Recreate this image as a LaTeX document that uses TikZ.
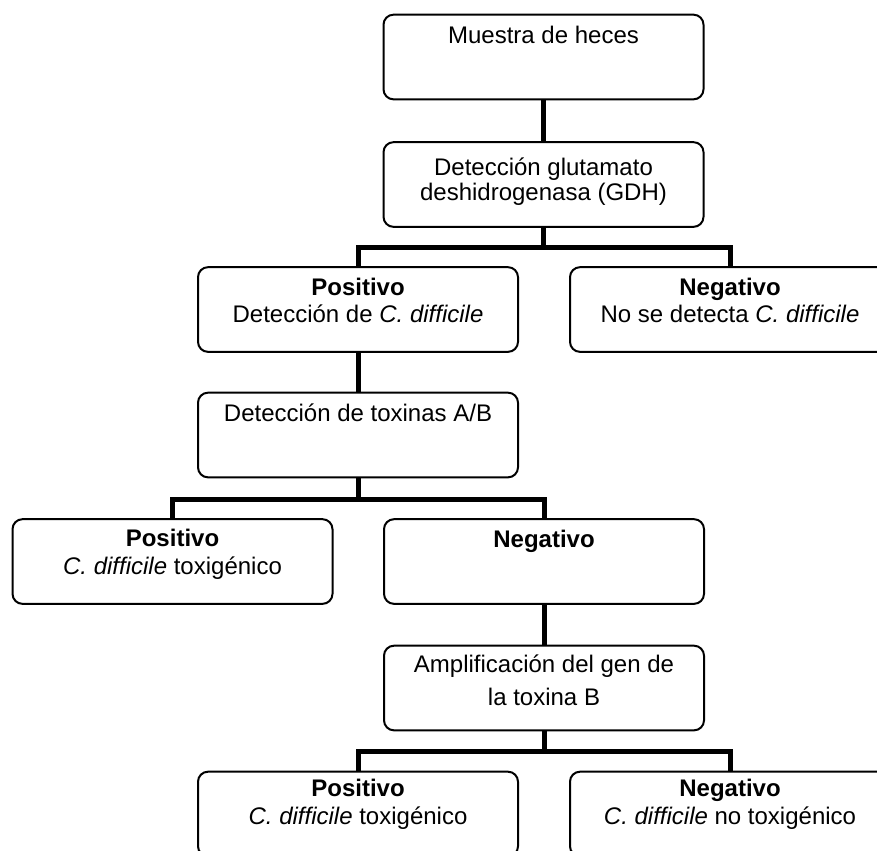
\documentclass[tikz,border=0pt]{standalone}
\usepackage{fontspec}
\setmainfont{Liberation Sans}
\usetikzlibrary{calc}
\begin{document}
\begin{tikzpicture}[x=0.75pt,y=-0.75pt,
  stepbox/.style={draw=black, line width=1.5pt, rounded corners=7.5pt,
    minimum width=240pt, minimum height=63.5pt, inner sep=0pt, outer sep=0pt},
  txt/.style={anchor=base, inner sep=0pt, font=\fontsize{18pt}{21pt}\selectfont},
  link/.style={line width=3.75pt}]

% page area
\useasboundingbox (0,0) rectangle (877,850);
\fill[white] (0,0) rectangle (877,850);
\clip (0,0) rectangle (877,850);

% boxes
\node[stepbox] (b1)  at (543.5,57)    {};
\node[stepbox] (b2)  at (543.5,184.5) {};
\node[stepbox] (b3)  at (358,309.5)   {};
\node[stepbox] (b4)  at (730,309.5)   {};
\node[stepbox] (b5)  at (358,435)     {};
\node[stepbox] (b6)  at (172.5,561.5) {};
\node[stepbox] (b7)  at (544,561.5)   {};
\node[stepbox] (b8)  at (544,688)     {};
\node[stepbox] (b9)  at (358,814)     {};
\node[stepbox] (b10) at (730,814)     {};

% box texts
\node[txt] (t1)  at ($(b1.north)+(0,29)$) {Muestra de heces};
\node[txt] (t2a) at ($(b2.north)+(0,33)$) {Detección glutamato};
\node[txt] (t2b) at ($(b2.north)+(0,58)$) {deshidrogenasa (GDH)};
\node[txt] (t3a) at ($(b3.north)+(0,28)$) {\bfseries Positivo};
\node[txt] (t3b) at ($(b3.north)+(0,55)$) {Detección de \textit{C. difficile}};
\node[txt] (t4a) at ($(b4.north)+(0,28)$) {\bfseries Negativo};
\node[txt] (t4b) at ($(b4.north)+(0,55)$) {No se detecta \textit{C. difficile}};
\node[txt] (t5)  at ($(b5.north)+(0,29)$) {Detección de toxinas A/B};
\node[txt] (t6a) at ($(b6.north)+(0,27)$) {\bfseries Positivo};
\node[txt] (t6b) at ($(b6.north)+(0,55)$) {\textit{C. difficile} toxigénico};
\node[txt] (t7)  at ($(b7.north)+(0,28)$) {\bfseries Negativo};
\node[txt] (t8a) at ($(b8.north)+(0,27)$) {Amplificación del gen de};
\node[txt] (t8b) at ($(b8.north)+(0,60)$) {la toxina B};
\node[txt] (t9a) at ($(b9.north)+(0,25)$) {\bfseries Positivo};
\node[txt] (t9b) at ($(b9.north)+(0,53)$) {\textit{C. difficile} toxigénico};
\node[txt] (t10a) at ($(b10.north)+(0,25)$) {\bfseries Negativo};
\node[txt] (t10b) at ($(b10.north)+(0,53)$) {\textit{C. difficile} no toxigénico};

% branch points
\coordinate (j1) at (543.5,247);
\coordinate (j2) at (358,499);
\coordinate (j3) at (544,751);

% connectors
\draw[link] (b1.south) -- (b2.north);
\draw[link] (b2.south) -- (j1);
\draw[link] (j1) -| (b3.north);
\draw[link] (j1) -| (b4.north);
\draw[link] (b3.south) -- (b5.north);
\draw[link] (b5.south) -- (j2);
\draw[link] (j2) -| (b6.north);
\draw[link] (j2) -| (b7.north);
\draw[link] (b7.south) -- (b8.north);
\draw[link] (b8.south) -- (j3);
\draw[link] (j3) -| (b9.north);
\draw[link] (j3) -| (b10.north);
\end{tikzpicture}
\end{document}
